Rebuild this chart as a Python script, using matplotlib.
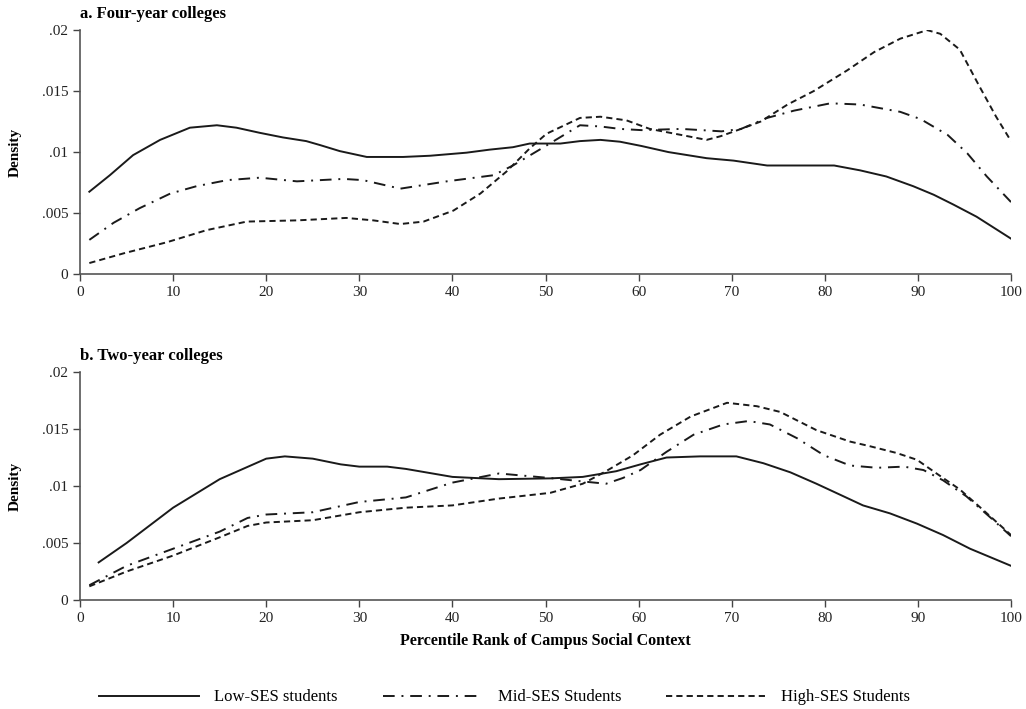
import matplotlib.pyplot as plt

plt.rcParams['font.family'] = ['Liberation Serif', 'DejaVu Serif']

# panel a: four-year colleges
x_low_a = [1, 3.2, 5.7, 8.6, 11.8, 14.7, 16.8, 19.3, 21.8, 24.3, 25.8, 27.9, 30.8, 34.7, 37.6, 41.5, 44,
           46.5, 48.3, 51.6, 53.7, 55.9, 58, 60.3, 63.2, 67.3, 70.2, 73.8, 77.4, 81, 83.8, 86.6, 89.5,
           91.7, 93.8, 96.3, 100]
low_a = [0.00675, 0.0081, 0.00975, 0.0110, 0.0120, 0.0122, 0.0120, 0.01158, 0.0112, 0.0109, 0.01057,
         0.01008, 0.0096, 0.0096, 0.0097, 0.00995, 0.0102, 0.0104, 0.0107, 0.0107, 0.0109, 0.0110,
         0.01085, 0.0105, 0.0100, 0.0095, 0.0093, 0.0089, 0.0089, 0.0089, 0.0085, 0.0080, 0.0072,
         0.0065, 0.0057, 0.0047, 0.0029]
x_mid_a = [1, 3.6, 6.4, 9.7, 12.5, 15.8, 19.3, 23.3, 28.3, 30.4, 34.4, 39.4, 44.4, 46.5, 49.8, 53.7,
           55.9, 58, 60.3, 64.6, 68.9, 71, 73.8, 76.7, 80.6, 83.8, 88.1, 90.3, 93.2, 95.3, 97.4, 100]
mid_a = [0.0028, 0.0042, 0.0054, 0.0066, 0.0072, 0.0077, 0.0079, 0.0076, 0.0078, 0.0077, 0.0070,
         0.0076, 0.0081, 0.0089, 0.0104, 0.0122, 0.0121, 0.0119, 0.0118, 0.0119, 0.0117, 0.0119,
         0.0128, 0.0134, 0.0140, 0.0139, 0.0133, 0.0127, 0.0114, 0.0099, 0.0080, 0.0059]
x_high_a = [1, 4.7, 9.3, 13.6, 17.9, 23.3, 28.6, 31.5, 34.4, 36.9, 40.1, 43, 45.8, 48.3, 50.1, 53.7,
            55.9, 58.7, 61.2, 64.6, 67.3, 68.8, 71, 73.1, 76, 78.8, 82.4, 85.3, 88.1, 91, 92.4, 94.5,
            96.6, 98.4, 100]
high_a = [0.0009, 0.0017, 0.0026, 0.0036, 0.0043, 0.0044, 0.0046, 0.0044, 0.0041, 0.0043, 0.0052,
          0.0066, 0.0084, 0.0103, 0.0115, 0.0128, 0.0129, 0.0126, 0.0119, 0.0114, 0.0110, 0.0113,
          0.0119, 0.0125, 0.0139, 0.0150, 0.0167, 0.0182, 0.0193, 0.0200, 0.0197, 0.0184, 0.0154,
          0.0129, 0.0109]

# panel b: two-year colleges
x_low_b = [2, 5, 10, 15, 20, 22, 25, 28, 30, 33, 35, 40, 45, 50.5, 54, 57.6, 60.2, 63, 66.6, 70.5,
           73.4, 76.3, 79.1, 82, 84.1, 87, 89.9, 92.7, 95.6, 100]
low_b = [0.0033, 0.0050, 0.0081, 0.0106, 0.0124, 0.0126, 0.0124, 0.0119, 0.0117, 0.0117, 0.0115,
         0.0108, 0.0106, 0.01067, 0.0108, 0.0113, 0.0119, 0.0125, 0.0126, 0.0126, 0.0120, 0.0112,
         0.0102, 0.0091, 0.0083, 0.0076, 0.0067, 0.0057, 0.0045, 0.0030]
x_mid_b = [1, 5, 10, 15, 18, 20, 25, 30, 35, 40, 45, 50.5, 54, 56.5, 58.3, 60.2, 63, 65.9, 69.1, 71.8,
           74.1, 77, 79.9, 82.7, 85.6, 88.5, 90.6, 92.7, 95.2, 97.7, 100]
mid_b = [0.0013, 0.0030, 0.0045, 0.0060, 0.0072, 0.0075, 0.0077, 0.0086, 0.0090, 0.0103, 0.0111,
         0.0107, 0.0104, 0.0102, 0.0107, 0.0114, 0.0130, 0.0145, 0.0154, 0.0157, 0.0154, 0.0142,
         0.0127, 0.0118, 0.0116, 0.0117, 0.0114, 0.0105, 0.0091, 0.0073, 0.0056]
x_high_b = [1, 5, 10, 15, 18, 20, 25, 30, 35, 40, 45, 50.5, 54, 56.5, 59.4, 62.3, 65.6, 69.5, 72.7,
            75.2, 79.1, 82.7, 84.8, 87.7, 89.9, 92, 94.5, 97, 100]
high_b = [0.0012, 0.0025, 0.0039, 0.0055, 0.0065, 0.0068, 0.0070, 0.0077, 0.0081, 0.0083, 0.0089,
          0.0094, 0.0102, 0.0113, 0.0127, 0.0145, 0.0161, 0.0173, 0.0170, 0.0165, 0.0149, 0.0139,
          0.0135, 0.0129, 0.0123, 0.0111, 0.0097, 0.0079, 0.0057]

labels = ['Low-SES students', 'Mid-SES Students', 'High-SES Students']
titles = ['a. Four-year colleges', 'b. Two-year colleges']
yticks = [0, 0.005, 0.01, 0.015, 0.02]
ytick_labels = ['0', '.005', '.01', '.015', '.02']

styles = [dict(ls='-'), dict(ls=(0, (6, 3.5, 1, 3.5))), dict(ls=(0, (3.2, 2.1)))]

fig = plt.figure(figsize=(10.26, 7.09), dpi=100)
ax_a = fig.add_axes([0.078, 0.6135, 0.9074, 0.344])
ax_b = fig.add_axes([0.078, 0.1537, 0.9074, 0.3216])

panels = [
    (ax_a, [(x_low_a, low_a), (x_mid_a, mid_a), (x_high_a, high_a)]),
    (ax_b, [(x_low_b, low_b), (x_mid_b, mid_b), (x_high_b, high_b)]),
]

for (ax, series), title in zip(panels, titles):
    for (xs, ys), st, lab in zip(series, styles, labels):
        ax.plot(xs, ys, color='#1a1a1a', lw=1.4, label=lab, **st)
    ax.set_xlim(0, 100)
    ax.set_ylim(0, 0.02)
    ax.set_xticks(range(0, 101, 10))
    ax.set_yticks(yticks)
    ax.set_yticklabels(ytick_labels)
    ax.tick_params(labelsize=11, color='#444444', length=5, width=1, labelcolor='#222222')
    for s in ['top', 'right']:
        ax.spines[s].set_visible(False)
    for s in ['left', 'bottom']:
        ax.spines[s].set_color('#555555')
        ax.spines[s].set_linewidth(1.2)
    ax.set_ylabel('Density', fontsize=11, fontweight='bold', labelpad=14)
    ax.set_title(title, loc='left', fontsize=12, fontweight='bold', pad=9)

ax_b.set_xlabel('Percentile Rank of Campus Social Context', fontsize=11.5, fontweight='bold', labelpad=6)

handles, labs = ax_a.get_legend_handles_labels()
fig.legend(handles, labs, loc='lower center', bbox_to_anchor=(0.492, -0.016), ncol=3, frameon=False,
           fontsize=12, handlelength=6, columnspacing=2.7, handletextpad=0.9)

fig.savefig('out.png', dpi=100, facecolor='white')
